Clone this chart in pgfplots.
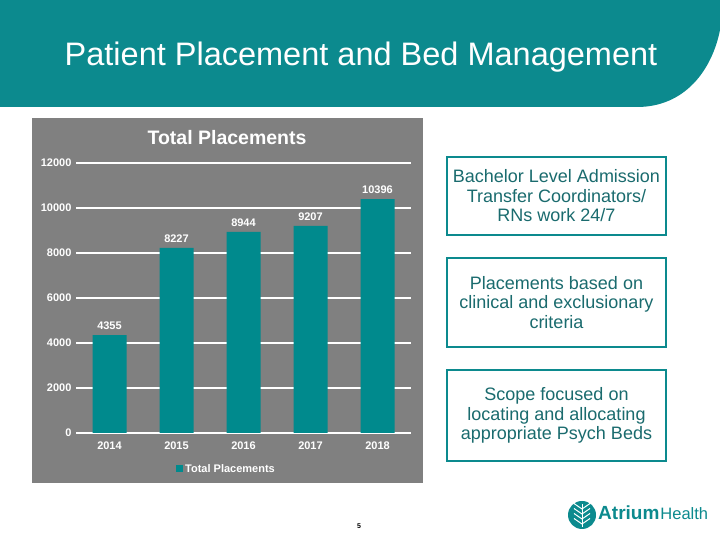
\documentclass[border=0pt]{standalone}
\usepackage{fontspec}
\setmainfont{Liberation Sans}
\usepackage{pgfplots}
\pgfplotsset{compat=1.18}

\definecolor{teal1}{HTML}{0C8A8E}
\definecolor{bargreen}{HTML}{008A8D}
\definecolor{panel}{HTML}{808080}
\definecolor{boxtext}{HTML}{1A6B6E}

\pgfplotstableread{
x year value
0 2014 4355
1 2015 8227
2 2016 8944
3 2017 9207
4 2018 10396
}\placements

\newcommand{\fs}[2]{\fontsize{#1}{#2}\selectfont}

\begin{document}
\begin{tikzpicture}[x=1pt,y=1pt]
\path[use as bounding box,fill=white] (0,0) rectangle (720,540);

% header band
\fill[teal1] (0,540) -- (720,540) -- (720,510)
  .. controls (712,470) and (685,433) .. (637,433) -- (0,433) -- cycle;
\node[text=white,font=\fs{32.5}{39}] at (361,483) {Patient Placement and Bed Management};

% chart panel
\fill[panel] (32,57) rectangle (423,422);
\node[text=white,font=\bfseries\fs{19.5}{23}] at (227,402) {Total Placements};

\begin{axis}[
  at={(76pt,107pt)}, anchor=south west,
  scale only axis, width=335pt, height=270pt,
  ybar, bar width=34pt, bar shift=0pt,
  xmin=-0.5, xmax=4.5, ymin=0, ymax=12000,
  xtick=data, xticklabels={2014,2015,2016,2017,2018},
  ytick={0,2000,...,12000},
  scaled y ticks=false,
  /pgf/number format/fixed,
  /pgf/number format/set thousands separator={},
  /pgf/number format/assume math mode=true,
  ymajorgrids, grid style={white,line width=1.1pt},
  axis line style={draw=none},
  major tick length=0pt,
  tick label style={text=white,font=\bfseries\fs{11}{12}},
  xticklabel style={yshift=-5pt},
  yticklabel style={xshift=-1pt},
  nodes near coords,
  nodes near coords style={text=white,font=\bfseries\fs{11}{12},anchor=south,yshift=1.5pt},
  legend style={at={(0.5,0)},anchor=center,xshift=-17pt,yshift=-36pt,
    draw=none,fill=none,text=white,font=\bfseries\fs{11}{12}},
  legend image code/.code={\fill[bargreen] (0pt,-3.5pt) rectangle (7pt,3.5pt);},
  clip=false,
]
\addplot[fill=bargreen,draw=none] table[x=x,y=value] {\placements};
\addlegendentry{Total Placements}
\end{axis}

% right-hand boxes
\begin{scope}[every node/.style={text=boxtext,align=center,font=\fs{18}{19.5}}]
\draw[teal1,line width=2.5pt] (447,305) rectangle (666,383);
\node at (556.5,344) {Bachelor Level Admission\\Transfer Coordinators/\\RNs work 24/7};
\draw[teal1,line width=2.5pt] (447,193) rectangle (666,282);
\node at (556.5,237.5) {Placements based on\\clinical and exclusionary\\criteria};
\draw[teal1,line width=2.5pt] (447,79) rectangle (666,170);
\node at (556.5,124.5) {Scope focused on\\locating and allocating\\appropriate Psych Beds};
\end{scope}

% page number
\node[font=\bfseries\fs{7}{8}] at (359,14) {5};

% logo
\fill[teal1] (582,25) circle (14);
\begin{scope}[white,line width=1pt]
\draw (582,13) -- (582,36);
\foreach \yy in {16,21,26,31} {
  \draw (582,\yy) -- (574,\yy+5.5);
  \draw (582,\yy) -- (590,\yy+5.5);
}
\end{scope}
\node[anchor=base west,text=teal1,inner sep=0pt] at (598,20)
  {\fs{19}{22}\bfseries Atrium\hspace{1pt}\mdseries\fs{16.5}{20}Health};
\end{tikzpicture}
\end{document}
